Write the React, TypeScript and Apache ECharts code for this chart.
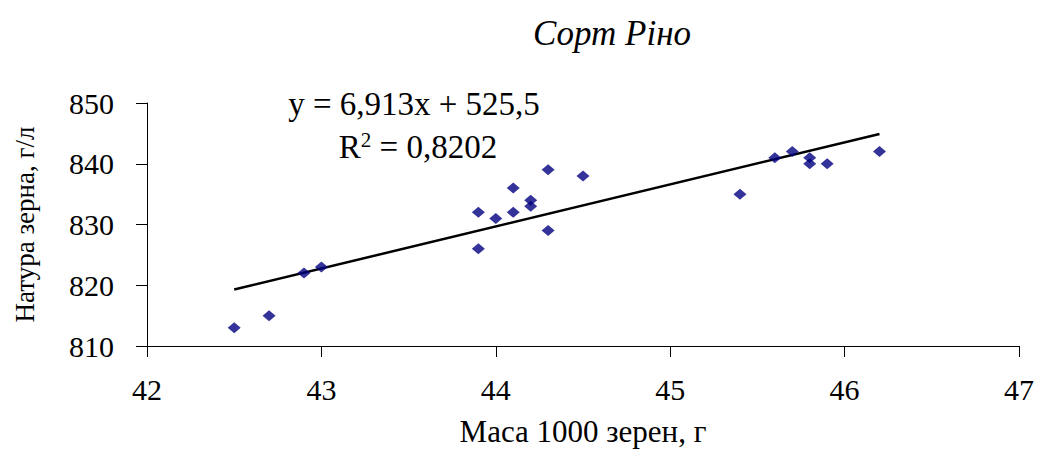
import React, { useEffect, useRef } from "react";
import * as echarts from "echarts";

const titleText = "Сорт Ріно";
const xAxisName = "Маса 1000 зерен, г";
const yAxisName = "Натура зерна, г/л";
const equationText = "y = 6,913x + 525,5";
const r2Value = "0,8202";

const massValues = [42.5, 42.7, 42.9, 43.0, 43.9, 43.9, 44.0, 44.1, 44.1, 44.2, 44.2, 44.3, 44.3, 44.5, 45.4, 45.6, 45.7, 45.8, 45.8, 45.9, 46.2];
const natureValues = [813, 815, 822, 823, 826, 832, 831, 836, 832, 834, 833, 839, 829, 838, 835, 841, 842, 841, 840, 840, 842];
const trendX = [42.5, 46.2];
const trendY = [819.3, 844.9];

const FONT = "Liberation Serif";

export default function App() {
  const ref = useRef<HTMLDivElement>(null);
  useEffect(() => {
    if (!ref.current) return;
    const chart = echarts.init(ref.current, null, { renderer: "svg" });
    const points = massValues.map((x, i) => [x, natureValues[i]]);
    const trend = trendX.map((x, i) => [x, trendY[i]]);
    chart.setOption({
      animation: false,
      backgroundColor: "#ffffff",
      textStyle: { fontFamily: FONT },
      title: {
        text: titleText,
        left: 607,
        textAlign: "center",
        top: 11,
        textStyle: { fontFamily: FONT, fontStyle: "italic", fontWeight: "normal", fontSize: 35, color: "#000" },
      },
      grid: { left: 147, right: 19, top: 103, bottom: 110 },
      xAxis: {
        type: "value",
        min: 42,
        max: 47,
        interval: 1,
        name: xAxisName,
        nameLocation: "middle",
        nameGap: 70,
        nameTextStyle: { fontFamily: FONT, fontSize: 31, color: "#000" },
        axisLine: { show: true, lineStyle: { color: "#000", width: 1 } },
        axisTick: { show: true, length: 11, lineStyle: { color: "#000" } },
        axisLabel: { fontFamily: FONT, fontSize: 30, color: "#000", margin: 28 },
        splitLine: { show: false },
      },
      yAxis: {
        type: "value",
        min: 810,
        max: 850,
        interval: 10,
        name: yAxisName,
        nameLocation: "middle",
        nameGap: 109,
        nameTextStyle: { fontFamily: FONT, fontSize: 27, color: "#000" },
        axisLine: { show: true, lineStyle: { color: "#000", width: 1 } },
        axisTick: { show: true, length: 11, lineStyle: { color: "#000" } },
        axisLabel: { fontFamily: FONT, fontSize: 30, color: "#000", margin: 33 },
        splitLine: { show: false },
      },
      graphic: [
        {
          type: "text",
          x: 414,
          y: 104,
          style: {
            text: equationText,
            fontFamily: FONT,
            fontSize: 33,
            fill: "#000",
            textAlign: "center",
            textVerticalAlign: "middle",
          },
        },
        {
          type: "text",
          x: 418,
          y: 146,
          style: {
            text: `{b|R}{s|2}{b| = ${r2Value}}`,
            fill: "#000",
            textAlign: "center",
            textVerticalAlign: "middle",
            rich: {
              b: { fontFamily: FONT, fontSize: 33, color: "#000", lineHeight: 34, verticalAlign: "bottom" },
              s: { fontFamily: FONT, fontSize: 21, color: "#000", lineHeight: 34, verticalAlign: "top" },
            },
          },
        },
      ],
      series: [
        {
          type: "line",
          data: trend,
          showSymbol: false,
          symbol: "none",
          lineStyle: { color: "#000", width: 2.5 },
          z: 2,
        },
        {
          type: "scatter",
          data: points,
          symbol: "diamond",
          symbolSize: [13, 11],
          itemStyle: { color: "#000080" },
          z: 3,
        },
      ],
    });
    return () => chart.dispose();
  }, []);
  return <div ref={ref} style={{ width: 1038, height: 456, position: "absolute", left: 0, top: 0 }} />;
}
